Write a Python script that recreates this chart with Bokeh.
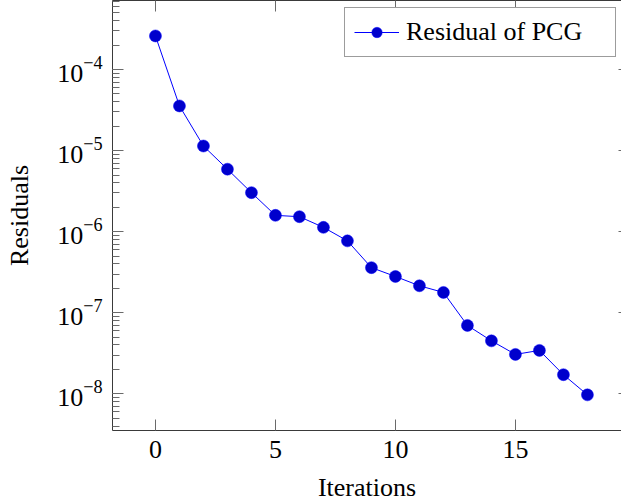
from bokeh.plotting import figure
from bokeh.models import (Range1d, LinearAxis, LogAxis, SingleIntervalTicker, LogTicker,
                          Legend, LegendItem, ColumnDataSource, CustomJSTickFormatter)
from bokeh.embed import file_html
from bokeh.resources import INLINE

iterations = list(range(19))
residuals = [2.6e-4, 3.56e-5, 1.14e-5, 5.9e-6, 3.03e-6, 1.59e-6, 1.53e-6, 1.13e-6,
             7.7e-7, 3.6e-7, 2.8e-7, 2.15e-7, 1.78e-7, 6.97e-8, 4.5e-8, 3.06e-8,
             3.43e-8, 1.72e-8, 9.7e-9]
series_name = "Residual of PCG"
x_label = "Iterations"
y_label = "Residuals"

FONT = "Liberation Serif"
FS = "26px"
AX = "#3a3a3a"
TK = "#6a6a6a"

src = ColumnDataSource(data=dict(x=iterations, y=residuals))

p = figure(output_backend="svg", toolbar_location=None,
           y_axis_type="log",
           x_range=Range1d(-1.79, 19.42), y_range=Range1d(10**-8.453, 10**-3.148),
           frame_width=509, frame_height=430,
           min_border_left=112, min_border_right=0, min_border_top=0, min_border_bottom=0)
p.grid.visible = False
p.background_fill_color = "white"
p.border_fill_color = "white"
p.outline_line_color = None

# bottom axis
xa = p.xaxis[0]
xa.ticker = SingleIntervalTicker(interval=5, num_minor_ticks=0)
xa.axis_label = x_label
# left axis
ya = p.yaxis[0]
ya.ticker = LogTicker(num_minor_ticks=10)
ya.axis_label = y_label

for ax in (xa, ya):
    ax.axis_line_color = AX
    ax.axis_line_width = 1
    ax.major_tick_in = 11
    ax.major_tick_out = 0
    ax.minor_tick_in = 7
    ax.minor_tick_out = 0
    ax.major_tick_line_color = TK
    ax.minor_tick_line_color = TK
    ax.major_label_text_font = FONT
    ax.major_label_text_font_size = FS
    ax.major_label_text_color = "black"
    ax.axis_label_text_font = FONT
    ax.axis_label_text_font_size = FS
    ax.axis_label_text_font_style = "normal"
    ax.axis_label_text_color = "black"
xa.minor_tick_line_color = None
xa.major_label_standoff = 10
xa.axis_label_standoff = 12
ya.major_label_standoff = 10
ya.axis_label_standoff = 20

# mirrored axes (top / right) with ticks only; the right edge of the box lies just past the picture
blank = CustomJSTickFormatter(code="return ''")
top = LinearAxis(ticker=SingleIntervalTicker(interval=5, num_minor_ticks=0), formatter=blank)
right = LogAxis(ticker=LogTicker(num_minor_ticks=10), formatter=blank)
for ax in (top, right):
    ax.major_tick_in = 11
    ax.major_tick_out = 0
    ax.minor_tick_in = 7
    ax.minor_tick_out = 0
    ax.major_tick_line_color = TK
    ax.minor_tick_line_color = TK
    ax.major_label_standoff = 0
top.axis_line_color = AX
top.minor_tick_line_color = None
right.axis_line_color = None
right.major_tick_in = 3
right.minor_tick_line_color = None
p.add_layout(top, "above")
p.add_layout(right, "right")

ln = p.line("x", "y", source=src, line_color="#0000ff", line_width=1)
sc = p.scatter("x", "y", source=src, size=12, fill_color="#0000cc", line_color="#0000ff",
               line_width=0.5)

legend = Legend(items=[LegendItem(label=series_name, renderers=[ln, sc])],
                location=(232, 373), orientation="vertical")
legend.label_text_font = FONT
legend.label_text_font_size = FS
legend.label_text_color = "black"
legend.glyph_width = 45
legend.glyph_height = 26
legend.label_width = 200
legend.label_height = 26
legend.label_standoff = 7
legend.padding = 9
legend.margin = 0
legend.spacing = 0
legend.border_line_color = AX
legend.border_line_width = 1
legend.background_fill_alpha = 1
p.add_layout(legend, "center")

open("out.html", "w").write(file_html(p, INLINE))
